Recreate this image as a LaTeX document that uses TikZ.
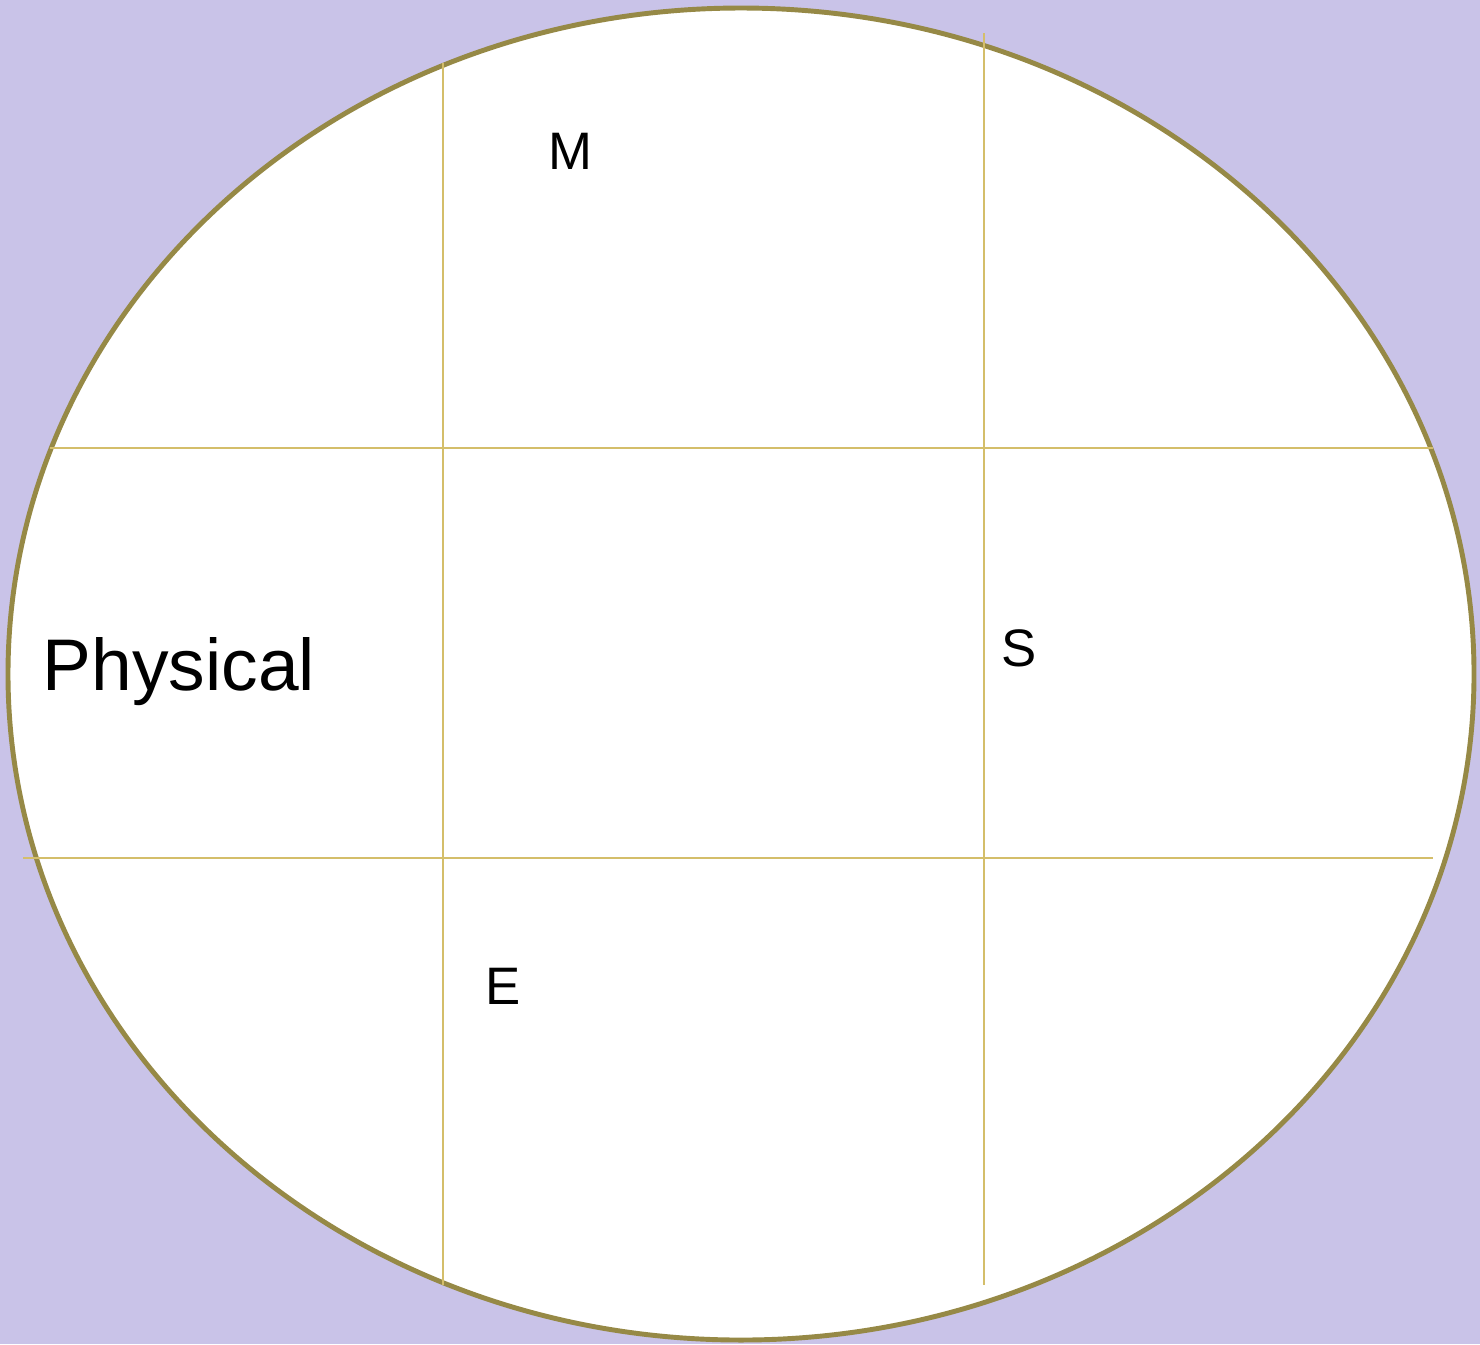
\documentclass[tikz,border=0pt]{standalone}
\usepackage{fontspec}
\setmainfont{Liberation Sans}
\usetikzlibrary{positioning}

\definecolor{lavender}{HTML}{C9C3E8}
\definecolor{rim}{HTML}{968946}
\definecolor{gridline}{HTML}{D4BE6A}

\begin{document}
\begin{tikzpicture}[x=0.01cm, y=-0.01cm,
    grid/.style={gridline, line width=0.6pt},
    letter/.style={inner sep=0pt, anchor=base, font=\fontsize{15}{18}\selectfont}]
  % background
  \fill[lavender] (0,0) rectangle (1480,1344);
  \useasboundingbox (0,0) rectangle (1480,1344);

  % outer ellipse
  \filldraw[fill=white, draw=rim, line width=1.4pt] (741,674) ellipse [x radius=733, y radius=-666];

  % grid
  \draw[grid] (443,63) -- (443,1285);
  \draw[grid] (984,33) -- (984,1285);
  \draw[grid] (50,448) -- (1433,448);
  \draw[grid] (23,858) -- (1433,858);

  % labels
  \node[inner sep=0pt, anchor=base west, font=\fontsize{20.8}{25}\selectfont] (physical) at (42,690) {Physical};
  \node[letter] (m) at (570,169) {M};
  \node[letter] (s) at (1019,666) {S};
  \node[letter] (e) at (503,1004) {E};
\end{tikzpicture}
\end{document}
